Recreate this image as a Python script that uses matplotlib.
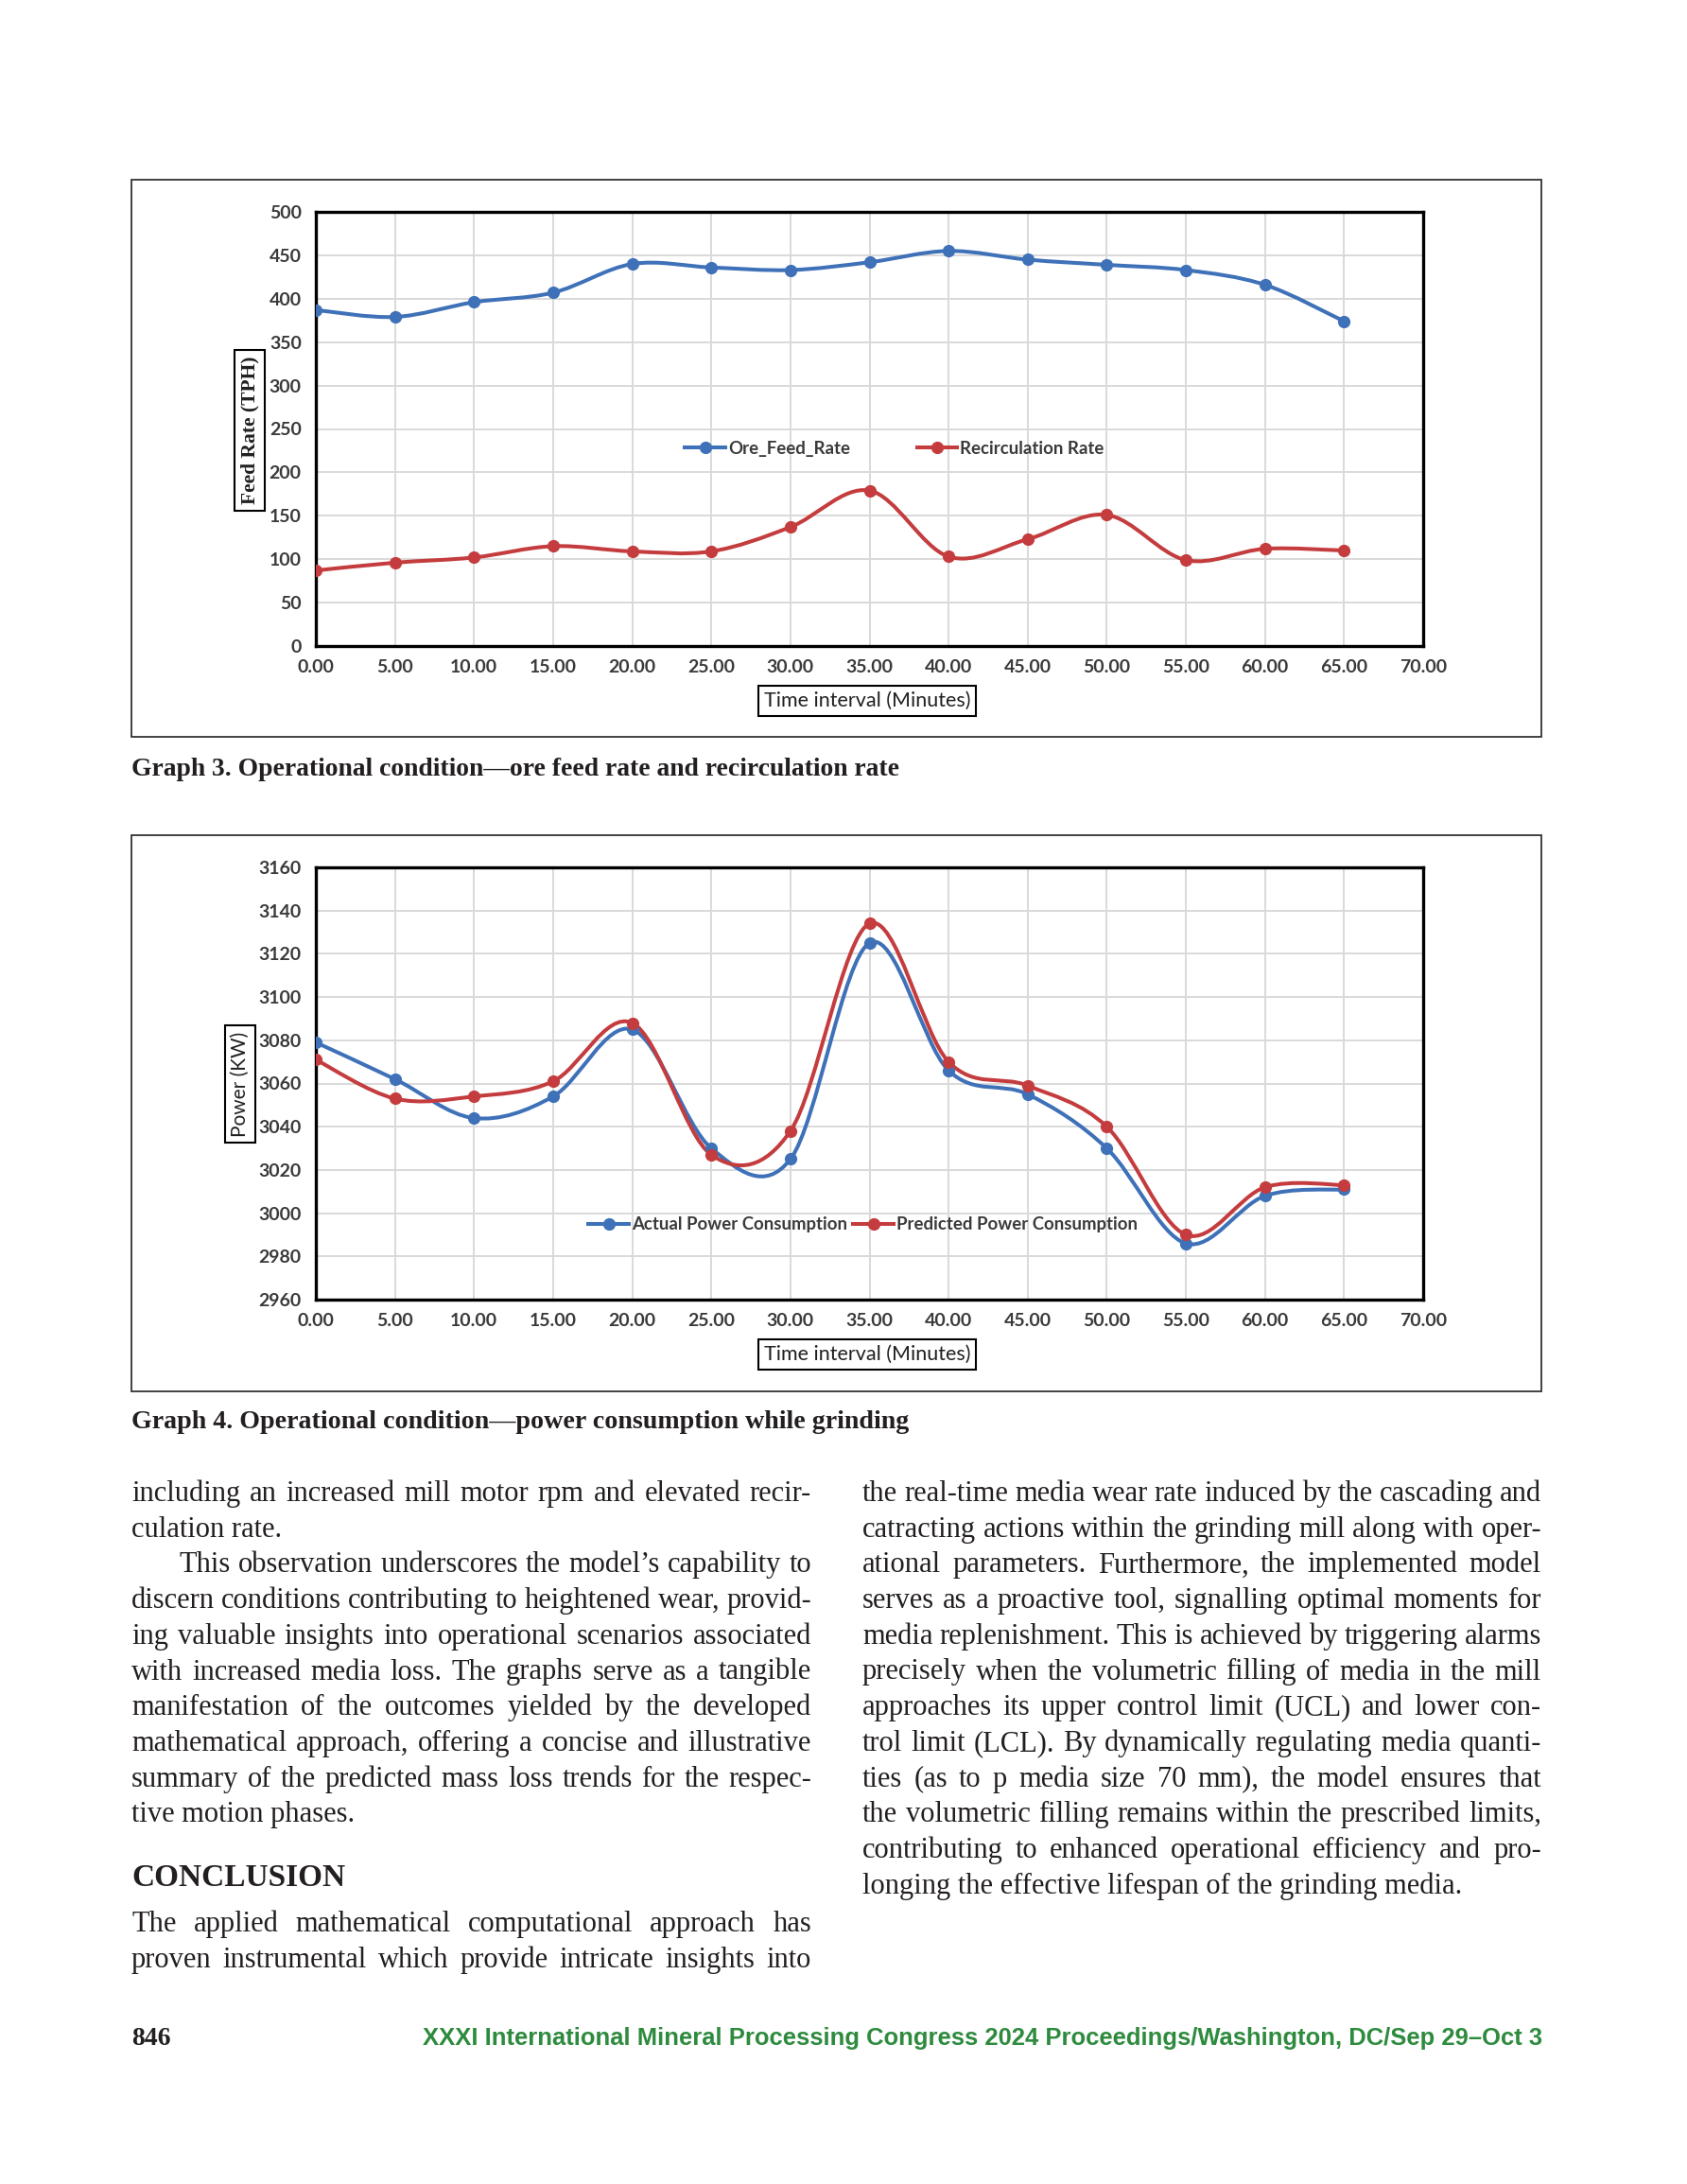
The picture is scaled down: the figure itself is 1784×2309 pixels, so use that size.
import matplotlib
matplotlib.use('Agg')
import matplotlib.pyplot as plt
from matplotlib.path import Path
from matplotlib.patches import PathPatch, Rectangle
from matplotlib.lines import Line2D

W, H = 1784, 2309

# data
time_min = [0, 5, 10, 15, 20, 25, 30, 35, 40, 45, 50, 55, 60, 65]
ore_feed = [387, 379, 396, 407, 440, 436, 433, 442, 455, 445, 439, 433, 416, 374]
recirc = [87, 96, 102, 115, 109, 109, 137, 179, 103, 123, 151, 99, 112, 110]
power_actual = [3079, 3062, 3044, 3054, 3085, 3030, 3025, 3125, 3066, 3055, 3030, 2986, 3008, 3011]
power_pred = [3071, 3053, 3054, 3061, 3088, 3027, 3038, 3134, 3070, 3059, 3040, 2990, 3012, 3013]

x_ticks = [0, 5, 10, 15, 20, 25, 30, 35, 40, 45, 50, 55, 60, 65, 70]
feed_ticks = [0, 50, 100, 150, 200, 250, 300, 350, 400, 450, 500]
power_ticks = [2960, 2980, 3000, 3020, 3040, 3060, 3080, 3100, 3120, 3140, 3160]

caption3 = 'Graph 3. Operational condition\u2014ore feed rate and recirculation rate'
caption4 = 'Graph 4. Operational condition\u2014power consumption while grinding'

left_col = [
    ('including an increased mill motor rpm and elevated recir-', True, 0),
    ('culation rate.', False, 0),
    ('This observation underscores the model\u2019s capability to', True, 51),
    ('discern conditions contributing to heightened wear, provid-', True, 0),
    ('ing valuable insights into operational scenarios associated', True, 0),
    ('with increased media loss. The graphs serve as a tangible', True, 0),
    ('manifestation of the outcomes yielded by the developed', True, 0),
    ('mathematical approach, offering a concise and illustrative', True, 0),
    ('summary of the predicted mass loss trends for the respec-', True, 0),
    ('tive motion phases.', False, 0),
]
concl_lines = [
    ('The applied mathematical computational approach has', True, 0),
    ('proven instrumental which provide intricate insights into', True, 0),
]
right_col = [
    ('the real-time media wear rate induced by the cascading and', True, 0),
    ('catracting actions within the grinding mill along with oper-', True, 0),
    ('ational parameters. Furthermore, the implemented model', True, 0),
    ('serves as a proactive tool, signalling optimal moments for', True, 0),
    ('media replenishment. This is achieved by triggering alarms', True, 0),
    ('precisely when the volumetric filling of media in the mill', True, 0),
    ('approaches its upper control limit (UCL) and lower con-', True, 0),
    ('trol limit (LCL). By dynamically regulating media quanti-', True, 0),
    ('ties (as to p media size 70 mm), the model ensures that', True, 0),
    ('the volumetric filling remains within the prescribed limits,', True, 0),
    ('contributing to enhanced operational efficiency and pro-', True, 0),
    ('longing the effective lifespan of the grinding media.', False, 0),
]
footer = 'XXXI International Mineral Processing Congress 2024 Proceedings/Washington, DC/Sep 29\u2013Oct 3'

BLUE = '#3f71b8'
RED = '#c43c3e'
SANS = ['Lato', 'DejaVu Sans']
SERIF = ['Liberation Serif', 'DejaVu Serif']


def fx(x):
    return x / W


def fy(y):
    return 1 - y / H


def smooth_path(x, y):
    # excel-like smoothed line: cubic bezier through the points
    n = len(x)
    verts = [(x[0], y[0])]
    codes = [Path.MOVETO]
    for i in range(n - 1):
        a = i - 1 if i > 0 else i
        b = i + 2 if i + 2 < n else i + 1
        c1 = (x[i] + (x[i + 1] - x[a]) / 6, y[i] + (y[i + 1] - y[a]) / 6)
        c2 = (x[i + 1] - (x[b] - x[i]) / 6, y[i + 1] - (y[b] - y[i]) / 6)
        verts += [c1, c2, (x[i + 1], y[i + 1])]
        codes += [Path.CURVE4] * 3
    return Path(verts, codes)


fig = plt.figure(figsize=(W / 100, H / 100), dpi=100)
fig.patch.set_facecolor('white')
renderer = fig.canvas.get_renderer()


def make_chart(top, bottom, box_top, box_bottom, series, yticks, ylabel, ylab_font,
               ylab_x, ylab_y, leg_xy, colsp):
    ax = fig.add_axes([fx(334), fy(bottom), (1505 - 334) / W, (bottom - top) / H])
    for vals, col, name in series:
        ax.add_patch(PathPatch(smooth_path(time_min, vals), fill=False, ec=col, lw=2.9,
                               capstyle='round', joinstyle='round', zorder=3))
        ax.plot(time_min, vals, 'o', color=col, ms=8.5, zorder=4)
    ax.set_xlim(0, 70)
    ax.set_ylim(yticks[0], yticks[-1])
    ax.set_xticks(x_ticks)
    ax.set_xticklabels(['%.2f' % t for t in x_ticks])
    ax.set_yticks(yticks)
    ax.grid(True, color='#d9d9d9', lw=1.4)
    ax.set_axisbelow(True)
    for s in ax.spines.values():
        s.set_linewidth(2.4)
        s.set_color('black')
    ax.tick_params(length=0, labelsize=14, labelcolor='#3a3a3a')
    ax.tick_params(axis='x', pad=10)
    ax.tick_params(axis='y', pad=11)
    for lab in ax.get_xticklabels() + ax.get_yticklabels():
        lab.set_family(SANS)
        lab.set_fontweight('bold')
    handles = [Line2D([], [], color=c, lw=2.9, marker='o', ms=8.5) for _, c, _ in series]
    ax.legend(handles, [n for _, _, n in series], loc='center', bbox_to_anchor=leg_xy, ncol=2,
              frameon=False, handlelength=2.3, handletextpad=0.15, columnspacing=colsp,
              prop={'family': SANS, 'size': 13.4, 'weight': 'bold'}, labelcolor='#3a3a3a')

    fig.text(fx(ylab_x), fy(ylab_y), ylabel, rotation=90, ha='center', va='center',
             **ylab_font,
             bbox=dict(boxstyle='square,pad=0.3', fc='white', ec='black', lw=1.5))
    fig.text(fx(917), fy(bottom + 58), 'Time interval (Minutes)', ha='center', va='center',
             family=SANS, size=15.5, color='#202020',
             bbox=dict(boxstyle='square,pad=0.28', fc='white', ec='black', lw=1.5))
    fig.add_artist(Rectangle((fx(139), fy(box_bottom)), (1630 - 139) / W, (box_bottom - box_top) / H,
                             transform=fig.transFigure, fill=False, ec='#333333', lw=1.3))
    return ax


make_chart(224, 683, 190, 779,
           [(ore_feed, BLUE, 'Ore_Feed_Rate'), (recirc, RED, 'Recirculation Rate')],
           feed_ticks, 'Feed Rate (TPH)',
           dict(family=SERIF, size=15.5, weight='bold', color='#202020'),
           264, 455, (0.5226, 0.455), 3.8)
make_chart(917, 1374, 883, 1471,
           [(power_actual, BLUE, 'Actual Power Consumption'),
            (power_pred, RED, 'Predicted Power Consumption')],
           power_ticks, 'Power (KW)',
           dict(family=SANS, size=15, color='#202020'),
           254, 1146, (0.494, 0.173), 0.35)


def fit_text(t, target):
    w = t.get_window_extent(renderer).width
    t.set_fontsize(t.get_fontsize() * target / w)


c3 = fig.text(fx(139), fy(813), caption3, va='center', family=SERIF, weight='bold', size=18, color='#231f20')
fit_text(c3, 811)
c4 = fig.text(fx(139), fy(1504), caption4, va='center', family=SERIF, weight='bold', size=18, color='#231f20')
fit_text(c4, 823)


def put_line(text, x0, x1, yb, justify, indent, size=22):
    kw = dict(family=SERIF, size=size, color='#231f20', va='baseline')
    if not justify:
        fig.text(fx(x0 + indent), fy(yb), text, **kw)
        return
    words = text.split()
    arts = [fig.text(0, 0, w, **kw) for w in words]
    widths = [a.get_window_extent(renderer).width for a in arts]
    gap = (x1 - x0 - indent - sum(widths)) / (len(words) - 1)
    if gap < 5.5:
        for a in arts:
            a.remove()
        put_line(text, x0, x1, yb, justify, indent, size * 0.98)
        return
    x = x0 + indent
    for a, w in zip(arts, widths):
        a.set_position((fx(x), fy(yb)))
        x += w + gap


LINE = 37.7
BASE = 1587
for i, (s, j, ind) in enumerate(left_col):
    put_line(s, 139, 858, BASE + i * LINE, j, ind)
fig.text(fx(139), fy(1985), 'CONCLUSION', va='center', family=SERIF, weight='bold', size=24, color='#231f20')
for i, (s, j, ind) in enumerate(concl_lines):
    put_line(s, 139, 858, 2042 + i * LINE, j, ind)
for i, (s, j, ind) in enumerate(right_col):
    put_line(s, 912, 1630, BASE + i * LINE, j, ind)

fig.text(fx(139), fy(2155), '846', va='center', family=SERIF, weight='bold', size=20, color='#231f20')
ft = fig.text(fx(1631), fy(2155), footer, ha='right', va='center',
              family=['Liberation Sans Narrow', 'Liberation Sans', 'DejaVu Sans'],
              weight='bold', size=20, color='#2e8b3e')
fit_text(ft, 1182)

fig.savefig('out.png', dpi=100, facecolor='white')
plt.close()
